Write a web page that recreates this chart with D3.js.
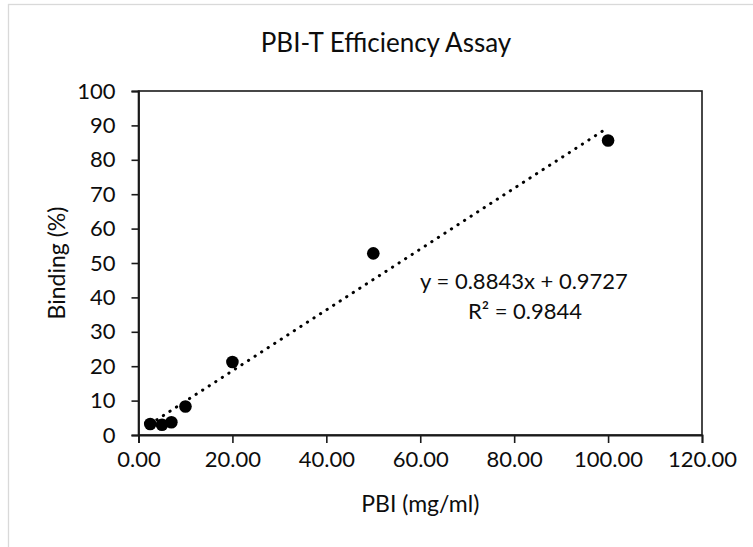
<!DOCTYPE html>
<html>
<head>
<meta charset="utf-8">
<script src="https://cdn.jsdelivr.net/npm/d3@7"></script>
<style>
  body { margin: 0; background: #fff; }
  svg { display: block; font-family: Lato, "Open Sans", sans-serif; }
</style>
</head>
<body>
<div id="vis-container"></div>
<script>
// Data
const pbi = [2.5, 5, 7, 10, 20, 50, 100];           // mg/ml
const binding = [3.2, 3.0, 3.7, 8.3, 21.2, 52.8, 85.6]; // %
const xTicks = [0, 20, 40, 60, 80, 100, 120];
const yTicks = [0, 10, 20, 30, 40, 50, 60, 70, 80, 90, 100];
const slope = 0.8843;
const intercept = 0.9727;
const rSquared = 0.9844;

const width = 753;
const height = 547;
const margin = { top: 91, right: 51, bottom: 112, left: 138.5 };

const svg = d3.select("#vis-container")
  .append("svg")
  .attr("width", width)
  .attr("height", height);

// light grey chart frame (runs off right/bottom edge)
svg.append("rect")
  .attr("x", 8.5)
  .attr("y", 4.5)
  .attr("width", width + 20)
  .attr("height", height + 20)
  .attr("fill", "none")
  .attr("stroke", "#d9d9d9")
  .attr("stroke-width", 1.3);

// Scales
const xScale = d3.scaleLinear()
  .domain([0, 120])
  .range([margin.left, width - margin.right]);

const yScale = d3.scaleLinear()
  .domain([0, 100])
  .range([height - margin.bottom, margin.top]);

// plot area border
svg.append("rect")
  .attr("x", xScale(0))
  .attr("y", yScale(100))
  .attr("width", xScale(120) - xScale(0))
  .attr("height", yScale(0) - yScale(100))
  .attr("fill", "none")
  .attr("stroke", "#1a1a1a")
  .attr("stroke-width", 1.6);

// x axis
svg.append("g")
  .attr("transform", `translate(0,${yScale(0)})`)
  .call(d3.axisBottom(xScale).tickValues(xTicks).tickFormat(d3.format(".2f")).tickSizeOuter(0).tickSize(8).tickPadding(8))
  .call((g) => g.select(".domain").attr("stroke", "#1a1a1a").attr("stroke-width", 1.8))
  .call((g) => g.selectAll(".tick line").attr("stroke", "#1a1a1a").attr("stroke-width", 1.6))
  .call((g) => g.selectAll(".tick text")
    .attr("font-family", "Lato, sans-serif")
    .attr("font-size", "22px")
    .attr("fill", "#0d0d0d"));

// y axis
svg.append("g")
  .attr("transform", `translate(${xScale(0)},0)`)
  .call(d3.axisLeft(yScale).tickValues(yTicks).tickFormat(d3.format("d")).tickSizeOuter(0).tickSize(7).tickPadding(16))
  .call((g) => g.select(".domain").attr("stroke", "#1a1a1a").attr("stroke-width", 1.8))
  .call((g) => g.selectAll(".tick line").attr("stroke", "#1a1a1a").attr("stroke-width", 1.6))
  .call((g) => g.selectAll(".tick text")
    .attr("font-family", "Lato, sans-serif")
    .attr("font-size", "22px")
    .attr("fill", "#0d0d0d"));

// linear trendline over the data range
const xExtent = d3.extent(pbi);
svg.append("line")
  .attr("x1", xScale(xExtent[0]))
  .attr("y1", yScale(slope * xExtent[0] + intercept))
  .attr("x2", xScale(xExtent[1]))
  .attr("y2", yScale(slope * xExtent[1] + intercept))
  .attr("stroke", "#000")
  .attr("stroke-width", 3)
  .attr("stroke-linecap", "round")
  .attr("stroke-dasharray", "0.3,7.5");

// points
svg.selectAll("circle")
  .data(pbi.map((d, i) => ({ x: d, y: binding[i] })))
  .enter()
  .append("circle")
  .attr("cx", (d) => xScale(d.x))
  .attr("cy", (d) => yScale(d.y))
  .attr("r", 6.3)
  .style("fill", "#000");

// title
svg.append("text")
  .attr("x", 386)
  .attr("y", 52)
  .attr("text-anchor", "middle")
  .attr("font-size", "26px")
  .attr("fill", "#0d0d0d")
  .text("PBI-T Efficiency Assay");

// axis titles
svg.append("text")
  .attr("x", (xScale(0) + xScale(120)) / 2)
  .attr("y", 512)
  .attr("text-anchor", "middle")
  .attr("font-size", "23px")
  .attr("fill", "#0d0d0d")
  .text("PBI (mg/ml)");

svg.append("text")
  .attr("transform", `translate(65,${(yScale(0) + yScale(100)) / 2}) rotate(-90)`)
  .attr("text-anchor", "middle")
  .attr("font-size", "23px")
  .attr("fill", "#0d0d0d")
  .text("Binding (%)");

// trendline equation
svg.append("text")
  .attr("x", 524)
  .attr("y", 289)
  .attr("text-anchor", "middle")
  .attr("font-size", "22px")
  .attr("fill", "#0d0d0d")
  .text(`y = ${slope}x + ${intercept}`);

svg.append("text")
  .attr("x", 525)
  .attr("y", 319)
  .attr("text-anchor", "middle")
  .attr("font-size", "22px")
  .attr("fill", "#0d0d0d")
  .text(`R² = ${rSquared}`);
</script>
</body>
</html>
